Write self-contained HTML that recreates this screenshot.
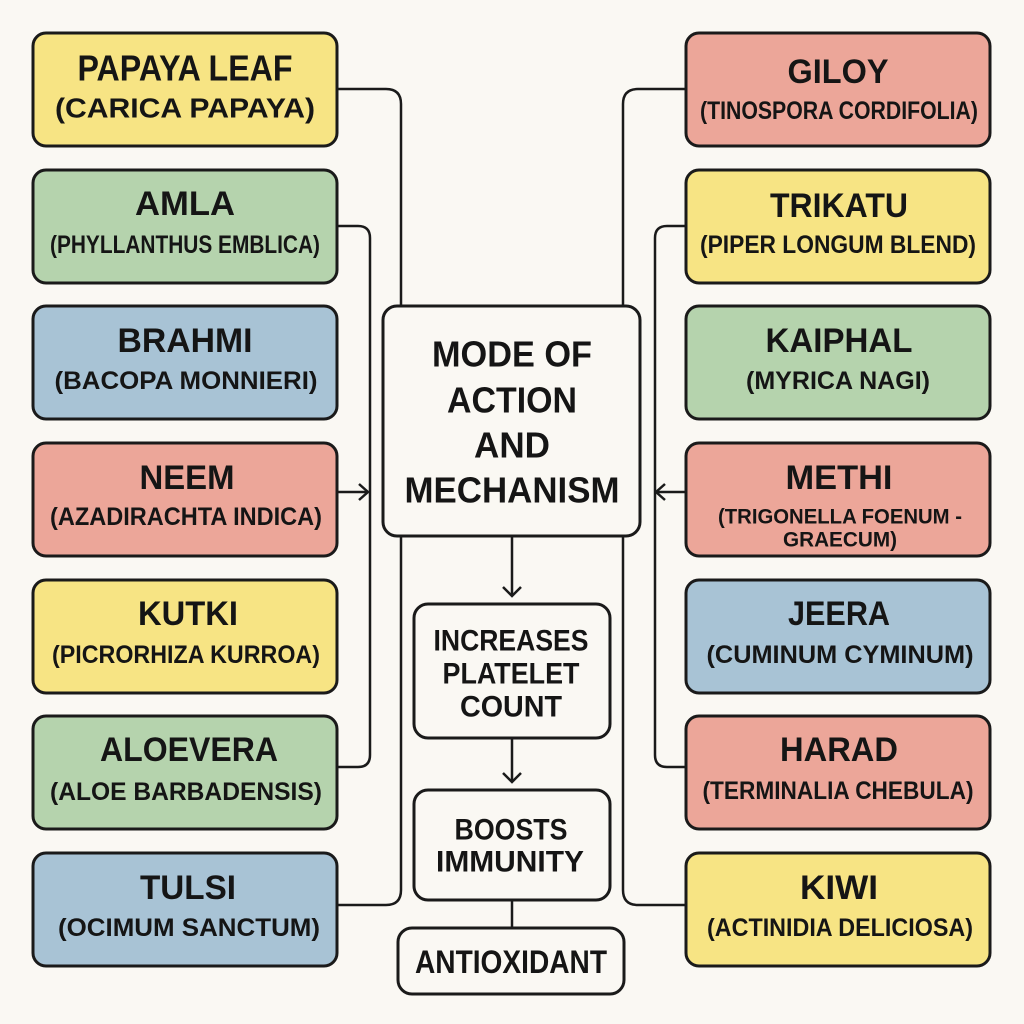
<!DOCTYPE html>
<html><head><meta charset="utf-8"><style>
html,body{margin:0;padding:0;background:#faf8f3;}
svg{display:block;}
text{font-family:"Liberation Sans",sans-serif;font-weight:bold;fill:#151515;text-anchor:middle;dominant-baseline:central;}
</style></head><body>
<svg width="1024" height="1024" viewBox="0 0 1024 1024" xmlns="http://www.w3.org/2000/svg">
<rect width="1024" height="1024" fill="#faf8f3"/>
<g fill="none" stroke="#1a1a1a" stroke-width="2.5">
<path d="M337 89 H386 Q401 89 401 104 V306"/>
<path d="M401 536 V890 Q401 905 386 905 H337"/>
<path d="M337 226 H358 Q370 226 370 238 V755 Q370 767 358 767 H337"/>
<path d="M337 492 H368"/><path d="M359 484 L368 492 L359 500"/>
<path d="M686 89 H638 Q623 89 623 104 V306"/>
<path d="M623 536 V890 Q623 905 638 905 H686"/>
<path d="M686 226 H667 Q655 226 655 238 V755 Q655 767 667 767 H686"/>
<path d="M686 492 H656"/><path d="M665 484 L656 492 L665 500"/>
<path d="M512 536 V596"/><path d="M503 587 L512 596 L521 587"/>
<path d="M512 738 V782"/><path d="M503 773 L512 782 L521 773"/>
<path d="M512 900 V928"/>
</g>
<g stroke="#1a1a1a" stroke-width="3">
<rect x="33" y="33" width="304" height="113" rx="13" fill="#f7e484"/>
<rect x="33" y="170" width="304" height="113" rx="13" fill="#b5d3ad"/>
<rect x="33" y="306" width="304" height="113" rx="13" fill="#a8c3d5"/>
<rect x="33" y="443" width="304" height="113" rx="13" fill="#eca699"/>
<rect x="33" y="580" width="304" height="113" rx="13" fill="#f7e484"/>
<rect x="33" y="716" width="304" height="113" rx="13" fill="#b5d3ad"/>
<rect x="33" y="853" width="304" height="113" rx="13" fill="#a8c3d5"/>
<rect x="686" y="33" width="304" height="113" rx="13" fill="#eca699"/>
<rect x="686" y="170" width="304" height="113" rx="13" fill="#f7e484"/>
<rect x="686" y="306" width="304" height="113" rx="13" fill="#b5d3ad"/>
<rect x="686" y="443" width="304" height="113" rx="13" fill="#eca699"/>
<rect x="686" y="580" width="304" height="113" rx="13" fill="#a8c3d5"/>
<rect x="686" y="716" width="304" height="113" rx="13" fill="#eca699"/>
<rect x="686" y="853" width="304" height="113" rx="13" fill="#f7e484"/>
<rect x="383" y="306" width="257" height="230" rx="14" fill="#faf8f3"/>
<rect x="414" y="604" width="196" height="134" rx="14" fill="#faf8f3"/>
<rect x="414" y="790" width="196" height="110" rx="14" fill="#faf8f3"/>
<rect x="398" y="928" width="226" height="66" rx="14" fill="#faf8f3"/>
</g>
<g font-size="34">
<text x="185" y="68" font-size="36" textLength="215" lengthAdjust="spacingAndGlyphs">PAPAYA LEAF</text>
<text x="185" y="108" font-size="28" textLength="260" lengthAdjust="spacingAndGlyphs">(CARICA PAPAYA)</text>
<text x="185" y="204" textLength="100" lengthAdjust="spacingAndGlyphs">AMLA</text>
<text x="185" y="341" textLength="135" lengthAdjust="spacingAndGlyphs">BRAHMI</text>
<text x="187" y="478" textLength="95" lengthAdjust="spacingAndGlyphs">NEEM</text>
<text x="188" y="614" textLength="100" lengthAdjust="spacingAndGlyphs">KUTKI</text>
<text x="189" y="750" textLength="178" lengthAdjust="spacingAndGlyphs">ALOEVERA</text>
<text x="188" y="888" textLength="96" lengthAdjust="spacingAndGlyphs">TULSI</text>
<text x="838" y="72" textLength="101" lengthAdjust="spacingAndGlyphs">GILOY</text>
<text x="839" y="206" textLength="138" lengthAdjust="spacingAndGlyphs">TRIKATU</text>
<text x="839" y="341" textLength="147" lengthAdjust="spacingAndGlyphs">KAIPHAL</text>
<text x="839" y="478" textLength="107" lengthAdjust="spacingAndGlyphs">METHI</text>
<text x="839" y="614" textLength="102" lengthAdjust="spacingAndGlyphs">JEERA</text>
<text x="839" y="750" textLength="118" lengthAdjust="spacingAndGlyphs">HARAD</text>
<text x="839" y="888" textLength="78" lengthAdjust="spacingAndGlyphs">KIWI</text>
</g>
<g font-size="25">
<text x="185" y="245" textLength="270" lengthAdjust="spacingAndGlyphs">(PHYLLANTHUS EMBLICA)</text>
<text x="186" y="381" textLength="263" lengthAdjust="spacingAndGlyphs">(BACOPA MONNIERI)</text>
<text x="186" y="517" textLength="272" lengthAdjust="spacingAndGlyphs">(AZADIRACHTA INDICA)</text>
<text x="186" y="655" textLength="268" lengthAdjust="spacingAndGlyphs">(PICRORHIZA KURROA)</text>
<text x="186" y="792" textLength="272" lengthAdjust="spacingAndGlyphs">(ALOE BARBADENSIS)</text>
<text x="189" y="928" textLength="262" lengthAdjust="spacingAndGlyphs">(OCIMUM SANCTUM)</text>
<text x="839" y="111" textLength="278" lengthAdjust="spacingAndGlyphs">(TINOSPORA CORDIFOLIA)</text>
<text x="838" y="245" textLength="276" lengthAdjust="spacingAndGlyphs">(PIPER LONGUM BLEND)</text>
<text x="838" y="381" textLength="184" lengthAdjust="spacingAndGlyphs">(MYRICA NAGI)</text>
<text x="840" y="517" font-size="21" textLength="244" lengthAdjust="spacingAndGlyphs">(TRIGONELLA FOENUM -</text>
<text x="840" y="540" font-size="21" textLength="114" lengthAdjust="spacingAndGlyphs">GRAECUM)</text>
<text x="840" y="655" textLength="267" lengthAdjust="spacingAndGlyphs">(CUMINUM CYMINUM)</text>
<text x="838" y="791" textLength="271" lengthAdjust="spacingAndGlyphs">(TERMINALIA CHEBULA)</text>
<text x="840" y="928" textLength="266" lengthAdjust="spacingAndGlyphs">(ACTINIDIA DELICIOSA)</text>
</g>
<g font-size="36">
<text x="512" y="354" textLength="160" lengthAdjust="spacingAndGlyphs">MODE OF</text>
<text x="512" y="400" textLength="130" lengthAdjust="spacingAndGlyphs">ACTION</text>
<text x="512" y="445" textLength="76" lengthAdjust="spacingAndGlyphs">AND</text>
<text x="512" y="490" textLength="215" lengthAdjust="spacingAndGlyphs">MECHANISM</text>
</g>
<g font-size="30">
<text x="511" y="641" textLength="155" lengthAdjust="spacingAndGlyphs">INCREASES</text>
<text x="511" y="674" textLength="137" lengthAdjust="spacingAndGlyphs">PLATELET</text>
<text x="511" y="707" textLength="102" lengthAdjust="spacingAndGlyphs">COUNT</text>
<text x="511" y="830" textLength="113" lengthAdjust="spacingAndGlyphs">BOOSTS</text>
<text x="510" y="862" textLength="148" lengthAdjust="spacingAndGlyphs">IMMUNITY</text>
<text x="511" y="962" font-size="32" textLength="192" lengthAdjust="spacingAndGlyphs">ANTIOXIDANT</text>
</g>
</svg>
</body></html>
